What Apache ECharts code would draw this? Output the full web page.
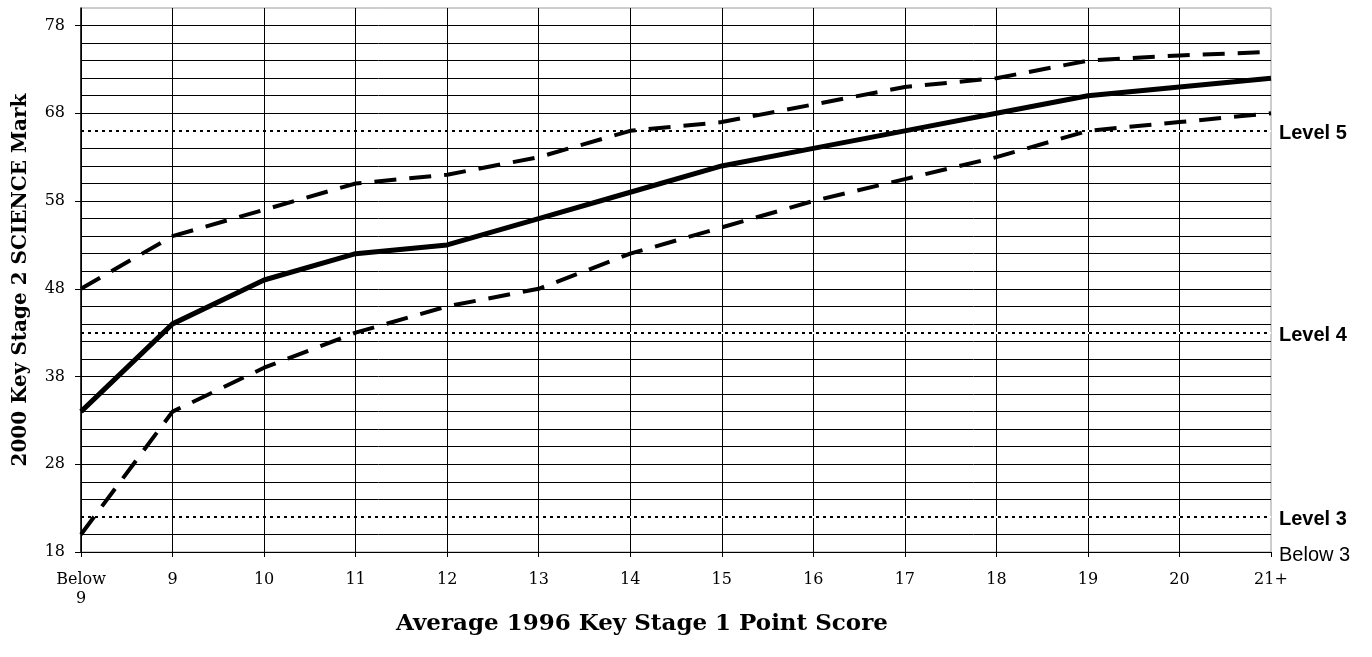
<!DOCTYPE html>
<html>
<head>
<meta charset="utf-8">
<script src="https://cdn.jsdelivr.net/npm/echarts@6/dist/echarts.min.js"></script>
<style>html,body{margin:0;padding:0;background:#fff}#c{width:1372px;height:657px}</style>
</head>
<body>
<div id="c"></div>
<script>
const categories = ['Below\n9','9','10','11','12','13','14','15','16','17','18','19','20','21+'];
const median = [34, 44, 49, 52, 53, 56, 59, 62, 64, 66, 68, 70, 71, 72];
const upper  = [48, 54, 57, 60, 61, 63, 66, 67, 69, 71, 72, 74, 74.6, 75];
const lower  = [20, 34, 39, 43, 46, 48, 52, 55, 58, 60.5, 63, 66, 67, 68];
const yTickLabels = [18, 28, 38, 48, 58, 68, 78];
const levelValues = [66, 43, 22];
const levelNames = ['Level 5', 'Level 4', 'Level 3'];
const belowValue = 18;
const belowName = 'Below 3';
const yMin = 18, yMax = 80, yStep = 2;

const serif = 'DejaVu Serif';
const sans = 'Liberation Sans';

const rightLabelValues = levelValues.concat([belowValue]);
function rightLabel(v) {
  const i = levelValues.indexOf(v);
  if (i >= 0) return '{b|' + levelNames[i] + '}';
  if (v === belowValue) return '{r|' + belowName + '}';
  return '';
}

const chart = echarts.init(document.getElementById('c'));
chart.setOption({
  animation: false,
  backgroundColor: '#fff',
  grid: {left: 81, right: 101, top: 8, bottom: 105, show: true, borderColor: '#9a9a9a', borderWidth: 1, backgroundColor: 'transparent'},
  xAxis: {
    type: 'category', data: categories, boundaryGap: false,
    axisLine: {lineStyle: {color: '#000', width: 1}},
    axisTick: {show: true, length: 5, lineStyle: {color: '#000'}},
    axisLabel: {color: '#000', fontFamily: serif, fontSize: 16, margin: 18, lineHeight: 19},
    splitLine: {show: true, showMaxLine: false, lineStyle: {color: '#000', width: 1}},
    name: 'Average 1996 Key Stage 1 Point Score', nameLocation: 'middle', nameGap: 56,
    nameTextStyle: {color: '#000', fontFamily: serif, fontWeight: 'bold', fontSize: 23, padding: [0, 68, 0, 0]}
  },
  yAxis: [{
    type: 'value', min: yMin, max: yMax, interval: yStep,
    axisLine: {show: true, lineStyle: {color: '#000', width: 1.5}},
    axisTick: {show: false},
    axisLabel: {show: false},
    splitLine: {show: true, showMaxLine: false, lineStyle: {color: '#000', width: 1}},
    name: '2000 Key Stage 2 SCIENCE Mark', nameLocation: 'middle', nameGap: 50,
    nameTextStyle: {color: '#000', fontFamily: serif, fontWeight: 'bold', fontSize: 20}
  }, {
    type: 'value', position: 'right', min: yMin, max: yMax, interval: yStep,
    axisLine: {show: false}, axisTick: {show: false}, splitLine: {show: false},
    axisLabel: {
      customValues: rightLabelValues, margin: 8, formatter: rightLabel, padding: [6, 0, 0, 0],
      rich: {
        b: {fontFamily: sans, fontWeight: 'bold', fontSize: 20, color: '#000'},
        r: {fontFamily: sans, fontWeight: 'normal', fontSize: 20, color: '#000'}
      }
    }
  }, {
    type: 'value', position: 'left', min: yMin, max: yMax, interval: yStep,
    axisLine: {show: false}, splitLine: {show: false},
    axisTick: {show: true, length: 6, customValues: yTickLabels, lineStyle: {color: '#000'}},
    axisLabel: {color: '#000', fontFamily: serif, fontSize: 16, margin: 16, customValues: yTickLabels}
  }],
  series: [
    {
      type: 'line', data: [], z: 3, silent: true,
      markLine: {symbol: 'none', silent: true, label: {show: false},
        lineStyle: {color: '#fff', type: 'solid', width: 2},
        data: levelValues.map(v => ({yAxis: v}))}
    },
    {
      type: 'line', data: [], z: 4, silent: true,
      markLine: {symbol: 'none', silent: true, label: {show: false},
        lineStyle: {color: '#000', type: [3, 4], width: 2},
        data: levelValues.map(v => ({yAxis: v}))}
    },
    {name: 'Upper', type: 'line', data: upper, z: 6, symbol: 'none',
      lineStyle: {color: '#000', width: 4, type: [22, 13]}},
    {name: 'Median', type: 'line', data: median, z: 6, symbol: 'none',
      lineStyle: {color: '#000', width: 5, type: 'solid'}},
    {name: 'Lower', type: 'line', data: lower, z: 6, symbol: 'none',
      lineStyle: {color: '#000', width: 4, type: [22, 13]}}
  ]
});
</script>
</body>
</html>
